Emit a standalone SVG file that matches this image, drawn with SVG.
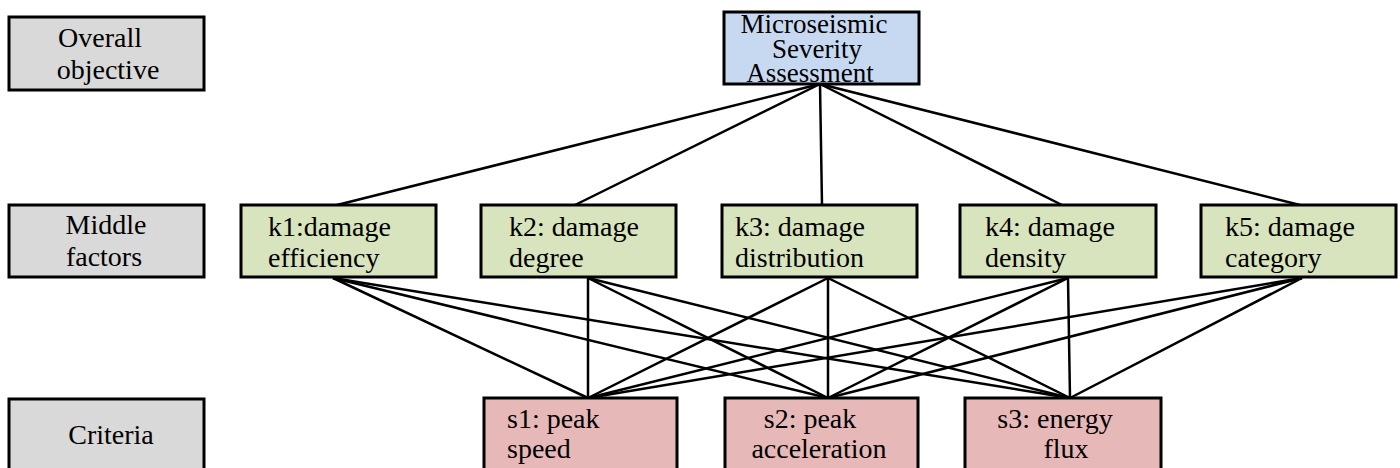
<svg xmlns="http://www.w3.org/2000/svg" width="1400" height="468" viewBox="0 0 1400 468">
<style>
.box{stroke:#000;stroke-width:3}
.gray{fill:#d9d9d9}
.blue{fill:#c6d9f1}
.green{fill:#d7e4bd}
.pink{fill:#e6b9b8}
text{font-family:"Liberation Serif","DejaVu Serif",serif;font-size:28px;fill:#000}
.c{text-anchor:middle}
.t{font-size:27px}
.conn line{stroke:#000;stroke-width:2.5}
</style>
<rect width="1400" height="468" fill="#fff"/>
<g class="conn">
<line x1="820" y1="84" x2="337" y2="205"/>
<line x1="820" y1="84" x2="575" y2="205"/>
<line x1="820" y1="84" x2="822" y2="205"/>
<line x1="820" y1="84" x2="1062" y2="205"/>
<line x1="820" y1="84" x2="1300" y2="205"/>
<line x1="333" y1="278" x2="588" y2="398"/>
<line x1="333" y1="278" x2="828" y2="398"/>
<line x1="333" y1="278" x2="1070" y2="398"/>
<line x1="588" y1="278" x2="588" y2="398"/>
<line x1="588" y1="278" x2="828" y2="398"/>
<line x1="588" y1="278" x2="1070" y2="398"/>
<line x1="828" y1="278" x2="588" y2="398"/>
<line x1="828" y1="278" x2="828" y2="398"/>
<line x1="828" y1="278" x2="1070" y2="398"/>
<line x1="1068" y1="278" x2="588" y2="398"/>
<line x1="1068" y1="278" x2="828" y2="398"/>
<line x1="1068" y1="278" x2="1070" y2="398"/>
<line x1="1302" y1="278" x2="588" y2="398"/>
<line x1="1302" y1="278" x2="828" y2="398"/>
<line x1="1302" y1="278" x2="1070" y2="398"/>
</g>
<g id="overall">
<rect class="box gray" x="9" y="17" width="195" height="73"/>
<text class="c" x="100" y="47">Overall</text>
<text class="c" x="108" y="79">objective</text>
</g>
<g id="middle">
<rect class="box gray" x="9" y="205" width="195" height="72"/>
<text class="c" x="106" y="234">Middle</text>
<text class="c" x="104" y="266">factors</text>
</g>
<g id="criteria">
<rect class="box gray" x="9" y="399" width="195" height="75"/>
<text class="c" x="111" y="444">Criteria</text>
</g>
<g id="goal">
<rect class="box blue" x="724" y="12" width="195" height="72"/>
<text class="c t" x="814" y="33">Microseismic</text>
<text class="c t" x="817" y="58">Severity</text>
<text class="c t" x="810" y="82">Assessment</text>
</g>
<g id="k1">
<rect class="box green" x="241" y="205" width="195" height="72"/>
<text x="268" y="236">k1:damage</text>
<text x="268" y="267">efficiency</text>
</g>
<g id="k2">
<rect class="box green" x="481" y="205" width="195" height="72"/>
<text x="509" y="236">k2: damage</text>
<text x="509" y="267">degree</text>
</g>
<g id="k3">
<rect class="box green" x="722" y="205" width="195" height="72"/>
<text x="735" y="236">k3: damage</text>
<text x="735" y="267">distribution</text>
</g>
<g id="k4">
<rect class="box green" x="960" y="205" width="196" height="72"/>
<text x="985" y="236">k4: damage</text>
<text x="985" y="267">density</text>
</g>
<g id="k5">
<rect class="box green" x="1201" y="205" width="195" height="72"/>
<text x="1225" y="236">k5: damage</text>
<text x="1225" y="267">category</text>
</g>
<g id="s1">
<rect class="box pink" x="484" y="398" width="193" height="76"/>
<text x="507" y="428">s1: peak</text>
<text x="507" y="458">speed</text>
</g>
<g id="s2">
<rect class="box pink" x="725" y="398" width="193" height="76"/>
<text class="c" x="810" y="428">s2: peak</text>
<text class="c" x="819" y="458">acceleration</text>
</g>
<g id="s3">
<rect class="box pink" x="965" y="398" width="196" height="76"/>
<text class="c" x="1055" y="428">s3: energy</text>
<text class="c" x="1066" y="458">flux</text>
</g>
</svg>
